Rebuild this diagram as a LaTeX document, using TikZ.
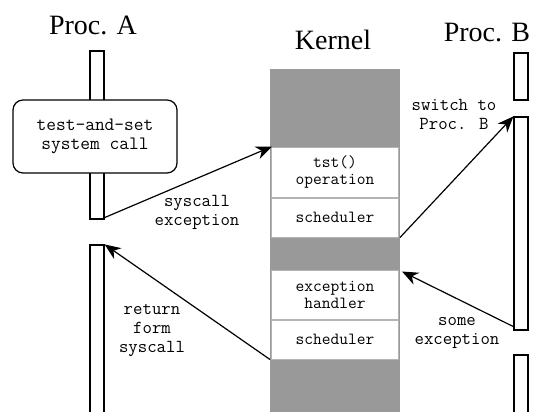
\documentclass[tikz,border=0pt]{standalone}
\usepackage{fontspec}
\setmainfont{Liberation Serif}
\usetikzlibrary{arrows.meta}
\definecolor{kgray}{HTML}{999999}
\definecolor{bgray}{HTML}{B4B4B4}
\begin{document}
\begin{tikzpicture}[x=1pt,y=-1pt,
  title/.style={anchor=base,inner sep=0,font=\fontsize{28}{30}\selectfont},
  bar/.style={draw,line width=1.2pt,fill=white,minimum width=14pt,inner sep=0,anchor=center},
  kbox/.style={draw=bgray,line width=1pt,fill=white,minimum width=127pt,inner sep=0,align=center,font=\ttfamily\fontsize{17}{17}\selectfont},
  lbl/.style={align=center,inner sep=0,font=\ttfamily\fontsize{18.3}{19}\selectfont},
  arr/.style={line width=1.2pt,-{Stealth[length=16pt,width=13pt,inset=5pt]}}]
\clip (0,0) rectangle (533,412);
\fill[white] (0,0) rectangle (533,412);
% titles
\node[title] (tA) at (93,35) {Proc. A};
\node[title] (tK) at (333,50) {Kernel};
\node[title] (tB) at (487,42) {Proc. B};
% Proc A
\node[bar,minimum height=168pt] (a1) at (97,135) {};
\node[draw,line width=1.2pt,fill=white,rounded corners=10pt,minimum width=164pt,minimum height=73pt,inner sep=0,align=center,font=\ttfamily\fontsize{18.9}{19}\selectfont] (tas) at (95,136.5) {test-and-set\\system call};
\node[bar,minimum height=180pt] (a2) at (97,335) {};
% Kernel
\node[fill=kgray,minimum width=130pt,minimum height=350pt,inner sep=0] (k) at (335,244) {};
\node[kbox,minimum height=50pt] (tst) at (335,172) {tst()\\operation};
\node[kbox,minimum height=39pt] (s1) at (335,217.5) {scheduler};
\node[kbox,minimum height=49pt] (exc) at (335,294.5) {exception\\handler};
\node[kbox,minimum height=39pt] (s2) at (335,339.5) {scheduler};
% Proc B
\node[bar,minimum height=47pt] (b1) at (521,76.5) {};
\node[bar,minimum height=213pt] (b2) at (521,223.5) {};
\node[bar,minimum height=65pt] (b3) at (521,387.5) {};
% arrows
\draw[arr] ([yshift=2pt]a1.south east) -- ([xshift=1pt]tst.north west);
\draw[arr] ([xshift=1pt]s1.south east) -- (b2.north west);
\draw[arr] ([yshift=4pt]b2.south west) -- ([xshift=3pt,yshift=-2pt]exc.north east);
\draw[arr] ([xshift=-1pt]s2.south west) -- (a2.north east);
% labels
\node[lbl] (l1) at (197,212) {syscall\\exception};
\node[lbl] (l2) at (454,114) {switch to\\Proc. B};
\node[lbl] (l3) at (152,331) {return\\form\\syscall};
\node[lbl] (l4) at (457,333) {some\\exception};
\end{tikzpicture}
\end{document}
